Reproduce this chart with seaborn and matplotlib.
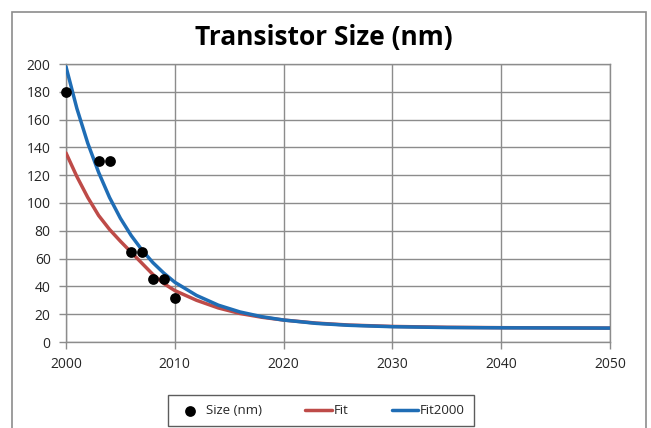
import numpy as np
import pandas as pd
import matplotlib
matplotlib.use('Agg')
import matplotlib.pyplot as plt
from matplotlib.patches import Rectangle
import seaborn as sns


# Measured transistor sizes (nm)
SIZE_YEARS = [2000, 2003, 2004, 2006, 2007, 2008, 2009, 2010]
SIZE_NM = [180, 130, 130, 65, 65, 45, 45, 32]

# Fitted curves, values
CURVE_YEARS = [2000, 2001, 2002, 2003, 2004, 2005, 2006, 2007, 2008, 2009, 2010,
               2012, 2014, 2016, 2018, 2020, 2023, 2026, 2030, 2035, 2040, 2050]
FIT = [136, 119, 104, 91, 81, 72.5, 64.5, 56.5, 48.5, 42, 37,
       30, 24.5, 20.5, 17.8, 15.8, 13.6, 12.2, 11.2, 10.6, 10.3, 10.0]
FIT2000 = [198, 168, 143, 122, 104, 89, 76.5, 66, 57, 49.5, 43,
           33.5, 26.5, 21.6, 18.2, 15.8, 13.4, 12.0, 11.0, 10.4, 10.2, 10.0]

X_TICKS = [2000, 2010, 2020, 2030, 2040, 2050]
Y_TICKS = list(range(0, 201, 20))

# Formatting
W, H, DPI = 651, 428, 100
RED = '#BE4B48'
BLUE = '#1F6DB5'
GRID = '#8c8c8c'
TEXT = '#262626'
FONTSIZE = 10

sns.set_style('white')
plt.rcParams['font.family'] = ['Open Sans', 'DejaVu Sans']

fig = plt.figure(figsize=(W / DPI, H / DPI), dpi=DPI)
ax = fig.add_axes([66 / W, 1 - 342 / H, (610 - 66) / W, (342 - 64) / H])

curves = pd.DataFrame({'YEAR': CURVE_YEARS, 'FIT': FIT, 'FIT2000': FIT2000})
sizes = pd.DataFrame({'YEAR': SIZE_YEARS, 'SIZE': SIZE_NM})

sns.lineplot(data=curves, x='YEAR', y='FIT', color=RED, linewidth=2.5,
             label='Fit', ax=ax, zorder=3)
sns.lineplot(data=curves, x='YEAR', y='FIT2000', color=BLUE, linewidth=2.5,
             label='Fit2000', ax=ax, zorder=4)
sns.scatterplot(data=sizes, x='YEAR', y='SIZE', color='black', s=60,
                edgecolor='black', linewidth=0, label='Size (nm)', ax=ax,
                zorder=5, clip_on=False)

ax.set_xlim(2000, 2050)
ax.set_ylim(0, 200)
ax.set_xticks(X_TICKS)
ax.set_yticks(Y_TICKS)
ax.set_xlabel('')
ax.set_ylabel('')
ax.grid(True, color=GRID, linewidth=1)
ax.set_axisbelow(True)
for side in ['top', 'right', 'left', 'bottom']:
    ax.spines[side].set_color(GRID)
    ax.spines[side].set_linewidth(1)
ax.tick_params(axis='both', which='major', length=5, width=1, color=GRID,
               labelsize=FONTSIZE, labelcolor=TEXT, direction='out')
ax.tick_params(axis='y', pad=6)
ax.tick_params(axis='x', pad=6)
ax.tick_params(bottom=True, left=True)

handles, labels = ax.get_legend_handles_labels()
ax.get_legend().remove()
order = [labels.index(l) for l in ['Size (nm)', 'Fit', 'Fit2000']]
leg = fig.legend([handles[i] for i in order], [labels[i] for i in order],
                 loc='upper left', bbox_to_anchor=(168 / W, 1 - 395 / H),
                 ncol=3, fontsize=9.5, frameon=True, fancybox=False,
                 edgecolor='#333333', handlelength=2.0, handletextpad=0.15,
                 columnspacing=3.3, borderpad=0.7, borderaxespad=0)
leg.get_frame().set_linewidth(1)
for t in leg.get_texts():
    t.set_color(TEXT)

fig.text(324 / W, 1 - 37 / H, 'Transistor Size (nm)', ha='center', va='center',
         fontsize=19, fontweight='bold', color='black')

fig.add_artist(Rectangle((12 / W, -0.05), (646 - 12) / W, 1 - 12 / H + 0.05,
                         transform=fig.transFigure, fill=False,
                         edgecolor=GRID, linewidth=1.2))

fig.savefig('out.png', dpi=DPI)
plt.close(fig)
